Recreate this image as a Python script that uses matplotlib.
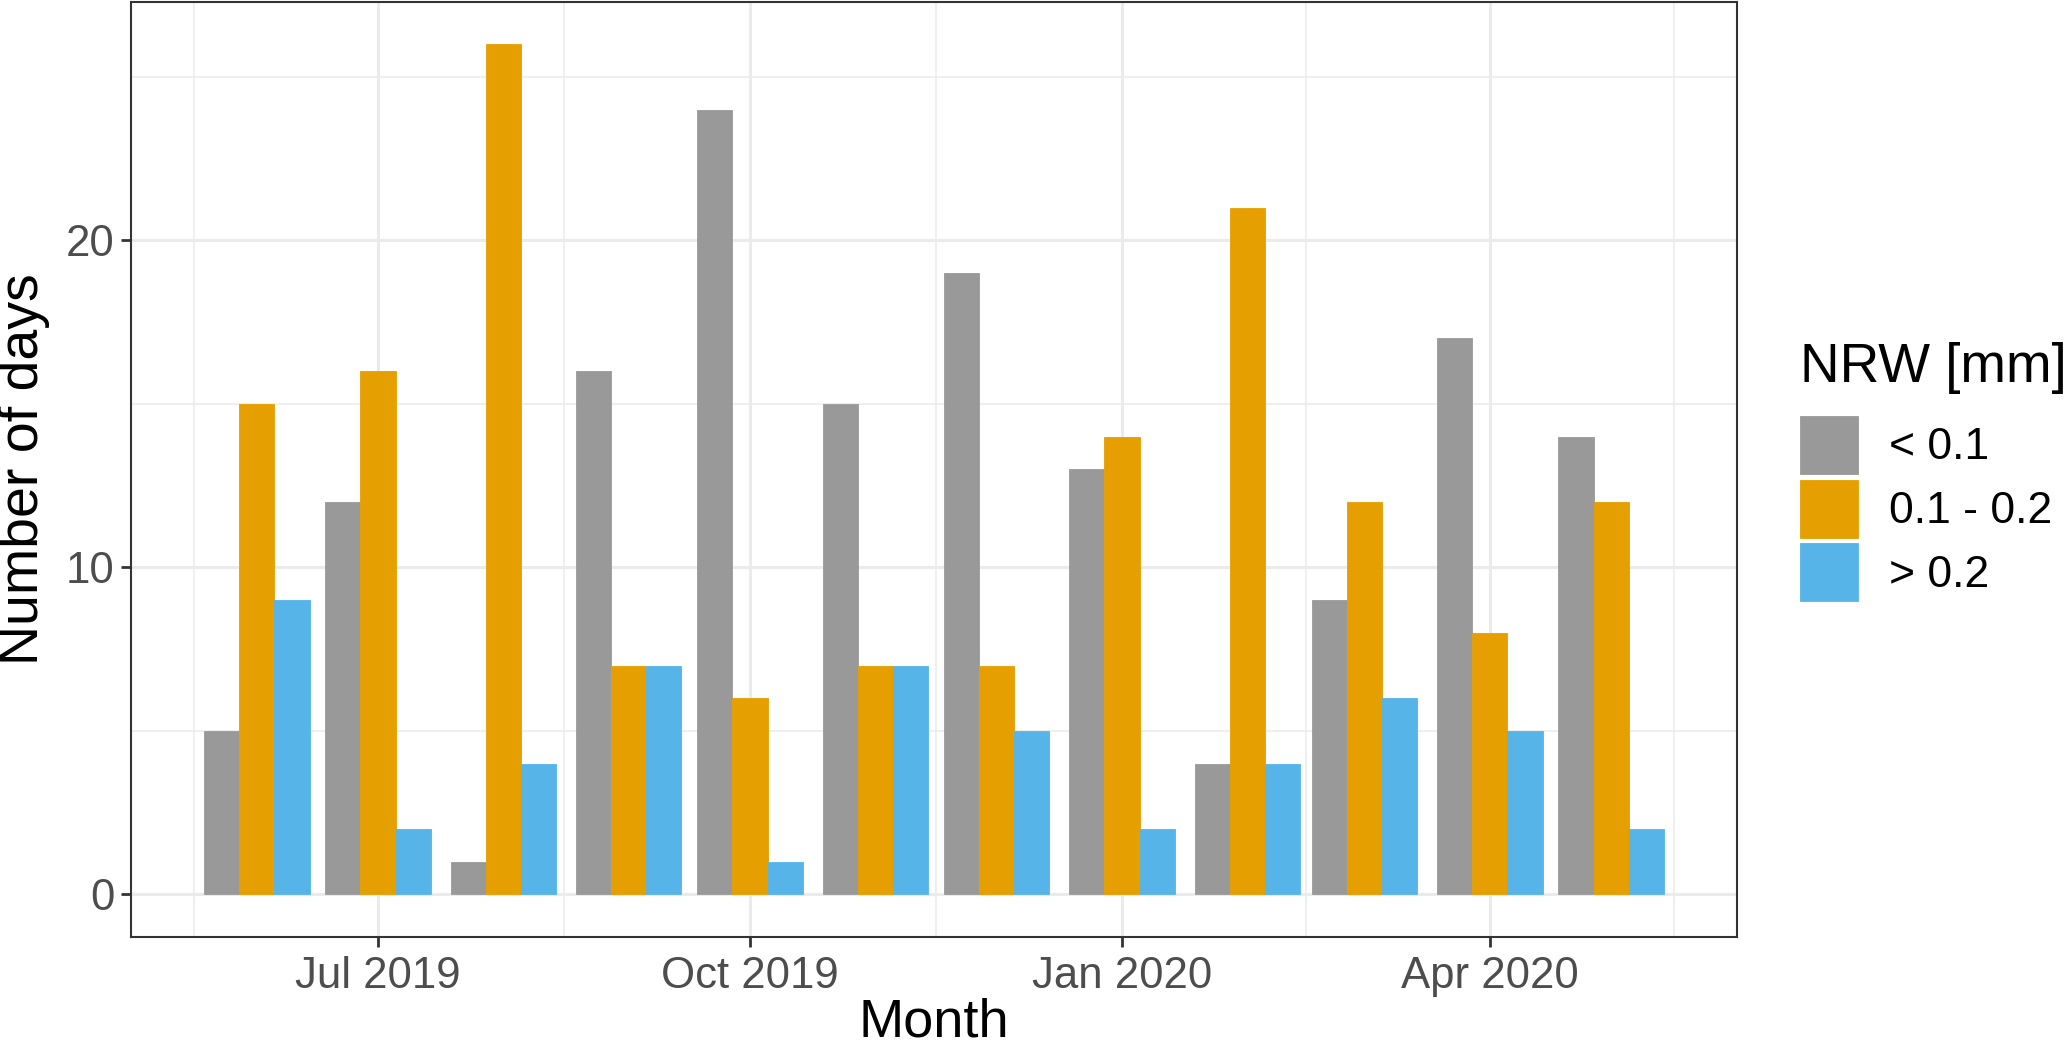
import datetime as dt
import matplotlib
matplotlib.use("Agg")
import matplotlib.pyplot as plt
import matplotlib.dates as mdates
from matplotlib.ticker import FixedLocator

plt.rcParams['font.family'] = ['Liberation Sans', 'DejaVu Sans']

months = ["2019-06", "2019-07", "2019-08", "2019-09", "2019-10", "2019-11",
          "2019-12", "2020-01", "2020-02", "2020-03", "2020-04", "2020-05"]
categories = ["< 0.1", "0.1 - 0.2", "> 0.2"]
low = [5, 12, 1, 16, 24, 15, 19, 13, 4, 9, 17, 14]
mid = [15, 16, 26, 7, 6, 7, 7, 14, 21, 12, 8, 12]
high = [9, 2, 4, 7, 1, 7, 5, 2, 4, 6, 5, 2]
series = [low, mid, high]
colors = ["#999999", "#E69F00", "#56B4E9"]
major_ticks = ["2019-07-01", "2019-10-01", "2020-01-01", "2020-04-01"]

dates = [mdates.date2num(dt.datetime.strptime(m + "-01", "%Y-%m-%d")) for m in months]
total_w = 0.9 * 29.0
bw = total_w / 3

fig = plt.figure(figsize=(20.67, 10.50), dpi=100)
ax = fig.add_axes([0.0634, 0.1076, 0.8403 - 0.0634, 0.9985 - 0.1076])

for k, (vals, col, lab) in enumerate(zip(series, colors, categories)):
    xs = [d + (k - 1) * bw for d in dates]
    ax.bar(xs, vals, width=bw, color=col, edgecolor=col, linewidth=0.6,
           label=lab, zorder=3)

# limits like ggplot (5% expansion)
xmin = dates[0] - total_w / 2
xmax = dates[-1] + total_w / 2
r = xmax - xmin
ax.set_xlim(xmin - 0.05 * r, xmax + 0.05 * r)
ymax = max(max(s) for s in series)
ax.set_ylim(-0.05 * ymax, ymax * 1.05)

maj = [mdates.date2num(dt.datetime.strptime(t, "%Y-%m-%d")) for t in major_ticks]
ext = [mdates.date2num(dt.datetime(2019, 4, 1))] + maj + [mdates.date2num(dt.datetime(2020, 7, 1))]
minor = [(ext[i] + ext[i + 1]) / 2 for i in range(len(ext) - 1)]
ax.xaxis.set_major_locator(FixedLocator(maj))
ax.xaxis.set_minor_locator(FixedLocator(minor))
ax.xaxis.set_major_formatter(mdates.DateFormatter("%b %Y"))
ax.yaxis.set_major_locator(FixedLocator([0, 10, 20]))
ax.yaxis.set_minor_locator(FixedLocator([5, 15, 25]))

ax.grid(which="major", color="#EBEBEB", linewidth=2.2, zorder=0)
ax.grid(which="minor", color="#EBEBEB", linewidth=1.1, zorder=0)
ax.set_axisbelow(True)
ax.tick_params(which="major", length=7, width=2, color="#333333",
               labelsize=31.5, labelcolor="#4D4D4D", pad=5)
ax.tick_params(axis="x", which="major", pad=7)
ax.tick_params(which="minor", length=0)
for sp in ax.spines.values():
    sp.set_color("#333333")
    sp.set_linewidth(1.5)

ax.set_xlabel("Month", fontsize=39, labelpad=0)
ax.set_ylabel("Number of days", fontsize=40, labelpad=11)

leg = ax.legend(title="NRW [mm]", loc="upper left", bbox_to_anchor=(0.871, 0.6746),
                bbox_transform=fig.transFigure, frameon=False, fontsize=32,
                title_fontsize=39.5, handlelength=1.3, handleheight=1.63,
                labelspacing=0.13, handletextpad=0.7, borderaxespad=0,
                borderpad=0, alignment="left")
leg._legend_box.sep = 16

fig.savefig("out.png", dpi=100)
